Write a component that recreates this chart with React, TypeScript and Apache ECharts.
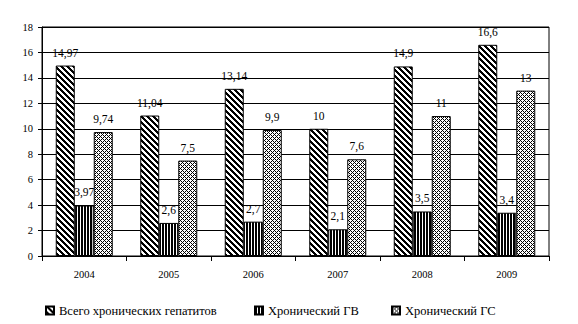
import React, { useEffect, useRef } from "react";
import * as echarts from "echarts";

const years = ["2004", "2005", "2006", "2007", "2008", "2009"];
const totalChronic = [14.97, 11.04, 13.14, 10, 14.9, 16.6];
const chronicHBV = [3.97, 2.6, 2.7, 2.1, 3.5, 3.4];
const chronicHCV = [9.74, 7.5, 9.9, 7.6, 11, 13];
const seriesNames = ["Всего хронических гепатитов", "Хронический ГВ", "Хронический ГС"];

function makeTile(w: number, h: number, isBlack: (x: number, y: number) => boolean): string {
  const c = document.createElement("canvas");
  c.width = w;
  c.height = h;
  const ctx = c.getContext("2d")!;
  const img = ctx.createImageData(w, h);
  for (let y = 0; y < h; y++) {
    for (let x = 0; x < w; x++) {
      const i = (y * w + x) * 4;
      const v = isBlack(x, y) ? 0 : 255;
      img.data[i] = v;
      img.data[i + 1] = v;
      img.data[i + 2] = v;
      img.data[i + 3] = 255;
    }
  }
  ctx.putImageData(img, 0, 0);
  return c.toDataURL();
}

const fmt = (p: any) => String(p.value).replace(".", ",");

export default function App() {
  const ref = useRef<HTMLDivElement>(null);
  useEffect(() => {
    if (!ref.current) return;
    const chart = echarts.init(ref.current, null, { renderer: "svg" });
    const diag = makeTile(6, 6, (x, y) => ((x - y + 60) % 6) < 3);
    const vert = makeTile(3, 1, (x) => x < 2);
    const cross = makeTile(4, 4, (x, y) => (x + y) % 4 === 0 || ((x - y + 8) % 4) === 0);
    const font = "Liberation Serif";
    const mk = (name: string, data: number[], img: string) => ({
      name,
      type: "bar",
      data,
      barWidth: 19,
      barGap: "0%",
      itemStyle: {
        color: { image: img, repeat: "repeat" },
        borderColor: "#000",
        borderWidth: 1,
      },
      label: {
        show: true,
        position: "top",
        distance: 7,
        formatter: fmt,
        fontFamily: font,
        fontSize: 11.5,
        color: "#000",
      },
    });
    const legendBase = {
      top: 299,
      itemWidth: 8,
      itemHeight: 8,
      itemGap: 5,
      icon: "rect",
      textStyle: { fontFamily: font, fontSize: 12.5, color: "#000" },
    };
    const legendLefts = [40, 249, 386];
    chart.setOption({
      animation: false,
      backgroundColor: "#fff",
      grid: {
        left: 42,
        right: 29,
        top: 27,
        bottom: 68,
        show: true,
        borderColor: "#000",
        borderWidth: 1,
      },
      legend: seriesNames.map((n, i) => ({ ...legendBase, left: legendLefts[i], data: [n] })),
      xAxis: {
        type: "category",
        data: years,
        axisLine: { lineStyle: { color: "#000" } },
        axisTick: { show: true, length: 5, lineStyle: { color: "#000" } },
        axisLabel: { fontFamily: font, fontSize: 10.5, color: "#000", margin: 13 },
      },
      yAxis: {
        type: "value",
        min: 0,
        max: 18,
        interval: 2,
        axisLine: { show: true, lineStyle: { color: "#000" } },
        axisTick: { show: true, length: 4, lineStyle: { color: "#000" } },
        axisLabel: { fontFamily: font, fontSize: 10.5, color: "#000", margin: 9 },
        splitLine: { lineStyle: { color: "#000", width: 1 } },
      },
      series: [
        mk(seriesNames[0], totalChronic, diag),
        mk(seriesNames[1], chronicHBV, vert),
        mk(seriesNames[2], chronicHCV, cross),
      ],
    });
    return () => chart.dispose();
  }, []);
  return (
    <div
      ref={ref}
      style={{ position: "fixed", left: 0, top: 0, width: 578, height: 324, background: "#fff" }}
    />
  );
}
